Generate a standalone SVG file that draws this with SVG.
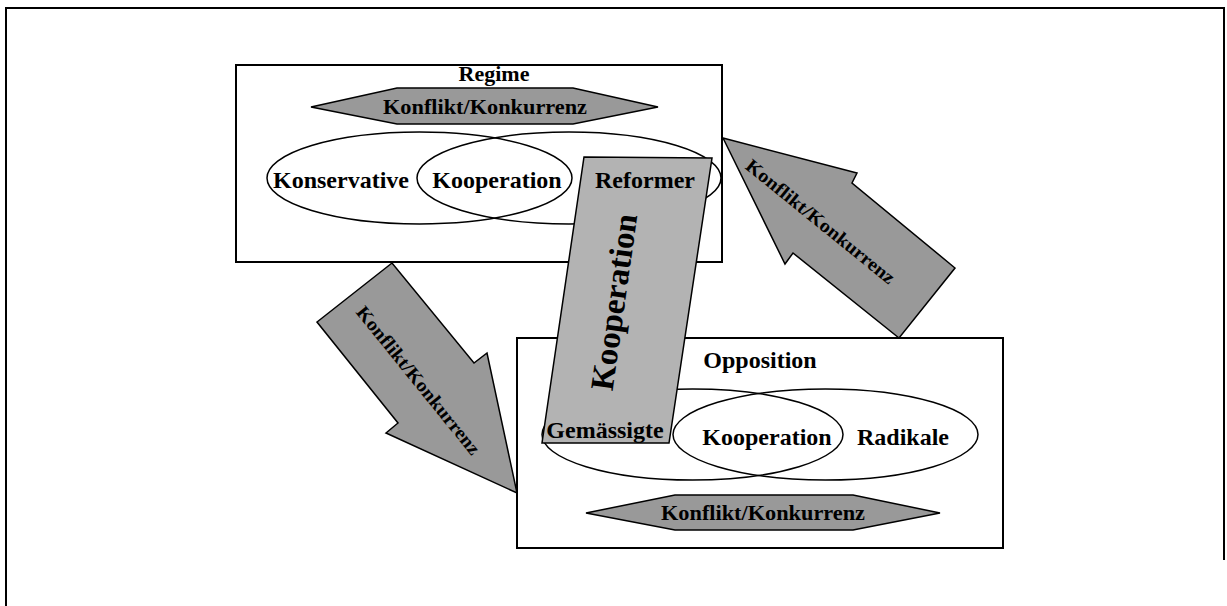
<svg xmlns="http://www.w3.org/2000/svg" width="1227" height="606" viewBox="0 0 1227 606">
<style>
.t{font-family:'Liberation Serif','Tinos','Times New Roman','DejaVu Serif',serif;font-weight:700;fill:#000;text-anchor:middle}
.box{fill:#fff;stroke:#000;stroke-width:2}
.ell{fill:none;stroke:#000;stroke-width:1.5}
.gray{fill:#999;stroke:#000;stroke-width:1.5;stroke-linejoin:miter}
.light{fill:#b3b3b3;stroke:#000;stroke-width:1.5}
</style>
<rect width="1227" height="606" fill="#fff"/>
<path d="M6,606 V8 H1224 V560" fill="none" stroke="#000" stroke-width="2"/>

<g id="regime" font-family="Liberation Serif, serif">
  <rect class="box" x="236" y="65" width="486" height="197"/>
  <text class="t" x="494" y="81" font-size="22">Regime</text>
  <polygon class="gray" points="311,107 397,88 573,88 658,107 573,124 397,124"/>
  <text class="t" x="485" y="114" font-size="20" textLength="204" lengthAdjust="spacingAndGlyphs">Konflikt/Konkurrenz</text>
  <ellipse class="ell" cx="419.5" cy="178" rx="152.5" ry="46"/>
  <ellipse class="ell" cx="569" cy="178" rx="152" ry="46"/>
  <text class="t" x="341" y="188" font-size="24">Konservative</text>
  <text class="t" x="497" y="188" font-size="24">Kooperation</text>
</g>

<g id="opposition" font-family="Liberation Serif, serif">
  <rect class="box" x="517" y="338" width="486" height="210"/>
  <text class="t" x="760" y="368" font-size="24">Opposition</text>
  <ellipse class="ell" cx="692.5" cy="434.5" rx="150.5" ry="45.5"/>
  <ellipse class="ell" cx="825.5" cy="434.5" rx="152.5" ry="45.5"/>
  <text class="t" x="767" y="445" font-size="24">Kooperation</text>
  <text class="t" x="903" y="445" font-size="24">Radikale</text>
  <polygon class="gray" points="586,513 675,495 853,495 940,513 853,530 675,530"/>
  <text class="t" x="763" y="520" font-size="20" textLength="204" lengthAdjust="spacingAndGlyphs">Konflikt/Konkurrenz</text>
</g>

<g id="connectors" font-family="Liberation Serif, serif">
  <g id="arrow-down">
    <polygon class="gray" points="392,263 317,322 398,423 386,433 517,493 487,353 474,363"/>
    <text class="t" transform="translate(419,380) rotate(51)" y="7" font-size="19" textLength="185" lengthAdjust="spacingAndGlyphs">Konflikt/Konkurrenz</text>
  </g>
  <g id="arrow-up">
    <polygon class="gray" points="723,138 857,173 852,183 955,268 899,338 793,253 785,264"/>
    <text class="t" transform="translate(821,221) rotate(39)" y="7" font-size="19" textLength="186" lengthAdjust="spacingAndGlyphs">Konflikt/Konkurrenz</text>
  </g>
  <g id="kooperation-link">
    <polygon class="light" points="584,157 712,158 669,443 542,443"/>
    <text class="t" transform="translate(614,302) rotate(-82)" y="11" font-size="33">Kooperation</text>
  </g>
</g>

<g id="labels-over" font-family="Liberation Serif, serif">
  <text class="t" x="645" y="188" font-size="24">Reformer</text>
  <text class="t" x="605" y="438" font-size="24">Gemässigte</text>
</g>
</svg>
